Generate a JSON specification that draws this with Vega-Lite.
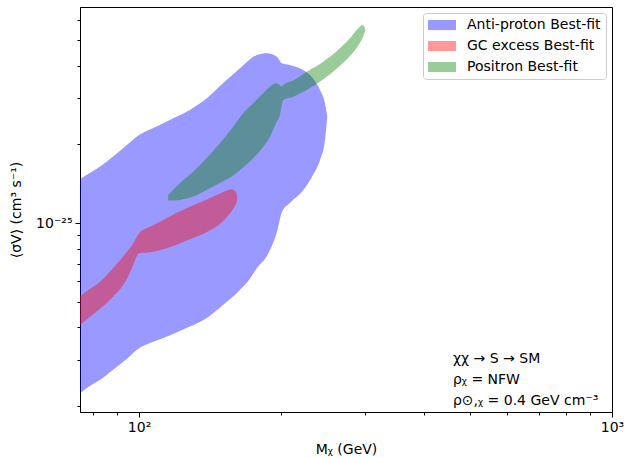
{
  "$schema": "https://vega.github.io/schema/vega-lite/v6.json",
  "width": 532,
  "height": 405,
  "autosize": {"type": "none"},
  "padding": {"left": 80, "top": 7, "right": 13, "bottom": 46},
  "background": "white",
  "datasets": {
    "regions": [
      {"s": "Anti-proton Best-fit", "m": 75, "hi": 1.473e-25, "lo": 2.242e-26},
      {"s": "Anti-proton Best-fit", "m": 78.66, "hi": 1.556e-25, "lo": 2.390e-26},
      {"s": "Anti-proton Best-fit", "m": 82.56, "hi": 1.645e-25, "lo": 2.520e-26},
      {"s": "Anti-proton Best-fit", "m": 87.98, "hi": 1.796e-25, "lo": 2.751e-26},
      {"s": "Anti-proton Best-fit", "m": 94.18, "hi": 1.991e-25, "lo": 3.031e-26},
      {"s": "Anti-proton Best-fit", "m": 100, "hi": 2.175e-25, "lo": 3.331e-26},
      {"s": "Anti-proton Best-fit", "m": 106.9, "hi": 2.306e-25, "lo": 3.520e-26},
      {"s": "Anti-proton Best-fit", "m": 116.1, "hi": 2.481e-25, "lo": 3.727e-26},
      {"s": "Anti-proton Best-fit", "m": 128.0, "hi": 2.709e-25, "lo": 4.028e-26},
      {"s": "Anti-proton Best-fit", "m": 139.1, "hi": 3.003e-25, "lo": 4.347e-26},
      {"s": "Anti-proton Best-fit", "m": 150.4, "hi": 3.426e-25, "lo": 4.874e-26},
      {"s": "Anti-proton Best-fit", "m": 163.4, "hi": 3.909e-25, "lo": 5.561e-26},
      {"s": "Anti-proton Best-fit", "m": 171.5, "hi": 4.224e-25, "lo": 6.134e-26},
      {"s": "Anti-proton Best-fit", "m": 177.5, "hi": 4.395e-25, "lo": 6.749e-26},
      {"s": "Anti-proton Best-fit", "m": 186.3, "hi": 4.461e-25, "lo": 7.502e-26},
      {"s": "Anti-proton Best-fit", "m": 195.6, "hi": 4.329e-25, "lo": 9.264e-26},
      {"s": "Anti-proton Best-fit", "m": 200.5, "hi": 4.085e-25, "lo": 1.1046e-25},
      {"s": "Anti-proton Best-fit", "m": 208.4, "hi": 4.024e-25, "lo": 1.1956e-25},
      {"s": "Anti-proton Best-fit", "m": 222.1, "hi": 3.851e-25, "lo": 1.3345e-25},
      {"s": "Anti-proton Best-fit", "m": 233.2, "hi": 3.580e-25, "lo": 1.5291e-25},
      {"s": "Anti-proton Best-fit", "m": 241.3, "hi": 3.230e-25, "lo": 1.7453e-25},
      {"s": "Anti-proton Best-fit", "m": 247.2, "hi": 2.873e-25, "lo": 2.0807e-25},
      {"s": "Anti-proton Best-fit", "m": 250.0, "hi": 2.554e-25, "lo": 2.550e-25},
      {"s": "GC excess Best-fit", "m": 75, "hi": 5.254e-26, "lo": 4.089e-26},
      {"s": "GC excess Best-fit", "m": 78.66, "hi": 5.601e-26, "lo": 4.385e-26},
      {"s": "GC excess Best-fit", "m": 82.56, "hi": 5.969e-26, "lo": 4.706e-26},
      {"s": "GC excess Best-fit", "m": 87.98, "hi": 6.719e-26, "lo": 5.231e-26},
      {"s": "GC excess Best-fit", "m": 94.18, "hi": 7.770e-26, "lo": 6.128e-26},
      {"s": "GC excess Best-fit", "m": 96.98, "hi": 8.335e-26, "lo": 6.869e-26},
      {"s": "GC excess Best-fit", "m": 100, "hi": 9.158e-26, "lo": 7.681e-26},
      {"s": "GC excess Best-fit", "m": 106.9, "hi": 9.809e-26, "lo": 7.770e-26},
      {"s": "GC excess Best-fit", "m": 114.45, "hi": 1.0477e-25, "lo": 8.027e-26},
      {"s": "GC excess Best-fit", "m": 126.2, "hi": 1.1441e-25, "lo": 8.597e-26},
      {"s": "GC excess Best-fit", "m": 139.1, "hi": 1.2328e-25, "lo": 9.264e-26},
      {"s": "GC excess Best-fit", "m": 148.2, "hi": 1.2997e-25, "lo": 9.939e-26},
      {"s": "GC excess Best-fit", "m": 153.3, "hi": 1.3345e-25, "lo": 1.0570e-25},
      {"s": "GC excess Best-fit", "m": 157.1, "hi": 1.3487e-25, "lo": 1.1142e-25},
      {"s": "GC excess Best-fit", "m": 159.4, "hi": 1.3287e-25, "lo": 1.1643e-25},
      {"s": "GC excess Best-fit", "m": 160.8, "hi": 1.2940e-25, "lo": 1.2060e-25},
      {"s": "GC excess Best-fit", "m": 161.3, "hi": 1.2458e-25, "lo": 1.2458e-25},
      {"s": "Positron Best-fit", "m": 115.2, "hi": 1.2827e-25, "lo": 1.2199e-25},
      {"s": "Positron Best-fit", "m": 121.9, "hi": 1.4215e-25, "lo": 1.2274e-25},
      {"s": "Positron Best-fit", "m": 130.1, "hi": 1.5743e-25, "lo": 1.2636e-25},
      {"s": "Positron Best-fit", "m": 138.9, "hi": 1.7716e-25, "lo": 1.3403e-25},
      {"s": "Positron Best-fit", "m": 148.2, "hi": 2.0212e-25, "lo": 1.4240e-25},
      {"s": "Positron Best-fit", "m": 158.1, "hi": 2.3387e-25, "lo": 1.5224e-25},
      {"s": "Positron Best-fit", "m": 166.0, "hi": 2.6313e-25, "lo": 1.6322e-25},
      {"s": "Positron Best-fit", "m": 174.3, "hi": 2.8730e-25, "lo": 1.7701e-25},
      {"s": "Positron Best-fit", "m": 183.0, "hi": 3.1374e-25, "lo": 1.9616e-25},
      {"s": "Positron Best-fit", "m": 189.1, "hi": 3.3246e-25, "lo": 2.1420e-25},
      {"s": "Positron Best-fit", "m": 195.3, "hi": 3.4264e-25, "lo": 2.4377e-25},
      {"s": "Positron Best-fit", "m": 198.5, "hi": 3.3599e-25, "lo": 2.5923e-25},
      {"s": "Positron Best-fit", "m": 200.2, "hi": 3.3305e-25, "lo": 2.8055e-25},
      {"s": "Positron Best-fit", "m": 201.7, "hi": 3.3747e-25, "lo": 2.9581e-25},
      {"s": "Positron Best-fit", "m": 211.8, "hi": 3.5111e-25, "lo": 3.0452e-25},
      {"s": "Positron Best-fit", "m": 226.1, "hi": 3.7941e-25, "lo": 3.2302e-25},
      {"s": "Positron Best-fit", "m": 245.2, "hi": 4.1429e-25, "lo": 3.5452e-25},
      {"s": "Positron Best-fit", "m": 265.9, "hi": 4.6606e-25, "lo": 3.9961e-25},
      {"s": "Positron Best-fit", "m": 279.2, "hi": 5.0896e-25, "lo": 4.3525e-25},
      {"s": "Positron Best-fit", "m": 290.7, "hi": 5.5573e-25, "lo": 4.7766e-25},
      {"s": "Positron Best-fit", "m": 297.0, "hi": 5.7212e-25, "lo": 5.1120e-25},
      {"s": "Positron Best-fit", "m": 301.1, "hi": 5.4747e-25, "lo": 5.4747e-25}
    ]
  },
  "layer": [
    {
      "data": {"name": "regions"},
      "mark": {"type": "area", "opacity": 0.4, "clip": true, "interpolate": "monotone"},
      "encoding": {
        "x": {
          "field": "m", "type": "quantitative",
          "scale": {"type": "log", "domain": [75, 1000], "nice": false},
          "axis": {
            "title": "Mᵪ (GeV)",
            "values": [80, 90, 100, 200, 300, 400, 500, 600, 700, 800, 900, 1000],
            "labelExpr": "datum.value == 100 ? '10²' : (datum.value == 1000 ? '10³' : '')",
            "tickSize": {"condition": {"test": "datum.value == 100 || datum.value == 1000", "value": 5}, "value": 3},
            "labelPadding": 3,
            "titlePadding": 8
          }
        },
        "y": {
          "field": "hi", "type": "quantitative",
          "scale": {"type": "log", "domain": [1.9e-26, 6.7e-25], "nice": false},
          "axis": {
            "title": "⟨σV⟩ (cm³ s⁻¹)",
            "values": [2e-26, 3e-26, 4e-26, 5e-26, 6e-26, 7e-26, 8e-26, 9e-26, 1e-25, 2e-25, 3e-25, 4e-25, 5e-25, 6e-25],
            "labelExpr": "abs(datum.value - 1e-25) < 1e-30 ? '10⁻²⁵' : ''",
            "tickSize": {"condition": {"test": "abs(datum.value - 1e-25) < 1e-30", "value": 5}, "value": 3},
            "labelPadding": 3,
            "titlePadding": 12
          }
        },
        "y2": {"field": "lo"},
        "color": {
          "field": "s", "type": "nominal",
          "scale": {
            "domain": ["Anti-proton Best-fit", "GC excess Best-fit", "Positron Best-fit"],
            "range": ["#0000ff", "#ff0000", "#008000"]
          },
          "legend": {
            "title": null,
            "orient": "top-right",
            "offset": 6,
            "padding": 5,
            "strokeColor": "#cccccc",
            "fillColor": "rgba(255,255,255,0.8)",
            "cornerRadius": 3,
            "symbolType": "M-1,-0.72H3V0.72H-1Z",
            "symbolSize": 196,
            "symbolOpacity": 0.4,
            "symbolStrokeWidth": 0,
            "labelOffset": 25,
            "labelFontSize": 14,
            "labelFont": "DejaVu Sans",
            "labelColor": "black",
            "rowPadding": 7
          }
        }
      }
    },
    {
      "data": {"values": [{}]},
      "mark": {
        "type": "text", "align": "left", "baseline": "middle",
        "fontSize": 14, "font": "DejaVu Sans", "lineHeight": 21, "color": "black"
      },
      "encoding": {
        "x": {"datum": 461, "type": "quantitative"},
        "y": {"datum": 3.031e-26, "type": "quantitative"},
        "text": {"value": ["χχ → S → SM", "ρᵪ = NFW", "ρ⊙,ᵪ = 0.4 GeV cm⁻³"]}
      }
    }
  ],
  "config": {
    "font": "DejaVu Sans",
    "view": {"stroke": "black", "strokeWidth": 1},
    "axis": {
      "grid": false,
      "domainColor": "black",
      "tickColor": "black",
      "labelColor": "black",
      "titleColor": "black",
      "labelFont": "DejaVu Sans",
      "titleFont": "DejaVu Sans",
      "labelFontSize": 14,
      "titleFontSize": 14,
      "titleFontWeight": "normal",
      "labelOverlap": false,
      "labelFlush": false,
      "labelBound": false
    }
  }
}
